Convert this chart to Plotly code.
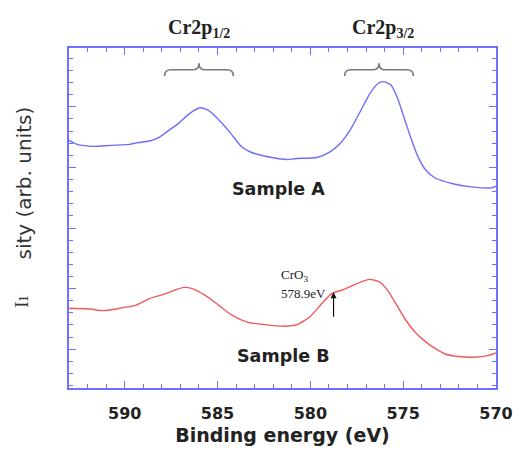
import plotly.graph_objects as go

# ---- data ----
energy_a = [593.0, 592.56, 591.68, 590.80, 589.73, 589.38, 588.67, 588.14, 587.61, 587.08,
            586.55, 585.93, 585.49, 584.95, 584.33, 583.72, 583.19, 582.30, 581.24, 580.71,
            579.64, 578.94, 578.41, 577.88, 577.35, 576.81, 576.37, 576.07, 575.66, 575.31,
            574.95, 574.60, 574.24, 573.80, 573.27, 572.38, 571.32, 570.26, 570.0]
sample_a = [4.084, 4.019, 3.987, 4.003, 4.019, 4.045, 4.075, 4.137, 4.255, 4.370,
            4.520, 4.625, 4.580, 4.432, 4.218, 3.986, 3.890, 3.815, 3.771, 3.787,
            3.803, 3.895, 4.029, 4.245, 4.540, 4.850, 5.020, 5.055, 5.000, 4.790,
            4.460, 4.137, 3.842, 3.600, 3.465, 3.374, 3.319, 3.303, 3.331]

energy_b = [593.0, 591.86, 591.15, 590.09, 589.38, 588.67, 587.79, 587.25, 586.81, 586.37,
            585.66, 584.95, 584.25, 583.36, 582.47, 581.41, 580.71, 580.00, 579.38, 578.85,
            578.23, 577.52, 576.81, 576.28, 575.84, 575.40, 574.87, 574.33, 573.63, 572.74,
            572.03, 571.15, 570.44, 570.0]
sample_b = [1.315, 1.303, 1.277, 1.326, 1.368, 1.476, 1.556, 1.621, 1.660, 1.640,
            1.529, 1.368, 1.206, 1.084, 1.045, 1.019, 1.045, 1.181, 1.395, 1.556,
            1.621, 1.718, 1.792, 1.750, 1.610, 1.395, 1.126, 0.911, 0.723, 0.561,
            0.519, 0.508, 0.535, 0.577]

x_ticks = [590, 585, 580, 575, 570]
peak_labels = ["Cr2p<sub>1/2</sub>", "Cr2p<sub>3/2</sub>"]
peak_centers = [586.0, 576.1]
brace_centers = [586.0, 576.3]
brace_half = 1.85
cro3_energy = 578.75

LINE_BLUE = "rgb(110,110,250)"
BLUE = "rgb(112,112,255)"
RED = "rgb(240,90,90)"
GRAY = "rgb(120,120,120)"
SANS = "DejaVu Sans"
SERIF = "Liberation Serif"

fig = go.Figure()
fig.add_trace(go.Scatter(x=energy_a, y=sample_a, mode="lines",
                         line=dict(color=LINE_BLUE, width=1.4, shape="spline", smoothing=0.6),
                         showlegend=False))
fig.add_trace(go.Scatter(x=energy_b, y=sample_b, mode="lines",
                         line=dict(color=RED, width=1.4, shape="spline", smoothing=0.6),
                         showlegend=False))

# curly braces
y_end, y_mid, y_tip = 5.15, 5.25, 5.36
for c in brace_centers:
    x0, x1 = c + brace_half, c - brace_half
    d = 0.35
    path = (f"M {x0},{y_end} Q {x0},{y_mid} {x0-d},{y_mid} L {c+d},{y_mid} "
            f"Q {c},{y_mid} {c},{y_tip} Q {c},{y_mid} {c-d},{y_mid} "
            f"L {x1+d},{y_mid} Q {x1},{y_mid} {x1},{y_end}")
    fig.add_shape(type="path", path=path, xref="x", yref="y",
                  line=dict(color=GRAY, width=1.6))

ann = []
for lab, c in zip(peak_labels, peak_centers):
    ann.append(dict(x=c, xref="x", y=1.058, yref="paper", text=f"<b>{lab}</b>",
                    showarrow=False, font=dict(family=SERIF, size=20, color="#222"),
                    xanchor="center", yanchor="middle"))
ann.append(dict(x=581.72, y=3.28, xref="x", yref="y", text="<b>Sample A</b>", showarrow=False,
                font=dict(family=SANS, size=17.5, color="#222")))
ann.append(dict(x=581.45, y=0.52, xref="x", yref="y", text="<b>Sample B</b>", showarrow=False,
                font=dict(family=SANS, size=17.5, color="#222")))
ann.append(dict(x=581.7, y=1.85, xref="x", yref="y", text="CrO<sub>3</sub>", showarrow=False,
                xanchor="left", font=dict(family=SERIF, size=13, color="#222")))
ann.append(dict(x=581.7, y=1.56, xref="x", yref="y", text="578.9eV", showarrow=False,
                xanchor="left", font=dict(family=SERIF, size=13, color="#222")))
ann.append(dict(x=cro3_energy, y=1.58, xref="x", yref="y", ax=cro3_energy, ay=1.15,
                axref="x", ayref="y", text="", showarrow=True, arrowhead=2, arrowsize=1,
                arrowwidth=1.2, arrowcolor="#111"))
ann.append(dict(x=-0.105, y=0.602, xref="paper", yref="paper", text="sity (arb. units)",
                xanchor="center", yanchor="middle",
                showarrow=False, textangle=-90, font=dict(family=SANS, size=20, color="#333")))
ann.append(dict(x=-0.11, y=0.254, xref="paper", yref="paper", text="Iı",
                xanchor="center", yanchor="middle",
                showarrow=False, textangle=-90, font=dict(family=SERIF, size=19, color="#333")))

fig.update_layout(
    width=517, height=447,
    margin=dict(l=61, r=23, t=40, b=59),
    paper_bgcolor="white", plot_bgcolor="white",
    annotations=ann,
    xaxis=dict(range=[593, 570], tickvals=x_ticks, ticks="inside", ticklen=7, tickwidth=1.3,
               tickcolor=BLUE, showline=True, linecolor=BLUE, linewidth=2, mirror="ticks",
               showgrid=False, zeroline=False,
               minor=dict(dtick=1, tick0=570, ticks="inside", ticklen=4, tickcolor=BLUE,
                          tickwidth=1.2, showgrid=False),
               tickfont=dict(family=SANS, size=16, color="#222", weight="bold"),
               ticklabelstandoff=10,
               title=dict(text="<b>Binding energy (eV)</b>", standoff=6,
                          font=dict(family=SANS, size=19, color="#222"))),
    yaxis=dict(range=[0, 5.61], tick0=0.64, dtick=1, ticks="inside", ticklen=7, tickwidth=1.3,
               tickcolor=BLUE, showline=True, linecolor=BLUE, linewidth=2, mirror="ticks",
               showgrid=False, zeroline=False, showticklabels=False,
               minor=dict(dtick=0.2, tick0=0.04, ticks="inside", ticklen=4, tickcolor=BLUE,
                          tickwidth=1.2, showgrid=False)),
)

fig.write_html("out.html")
